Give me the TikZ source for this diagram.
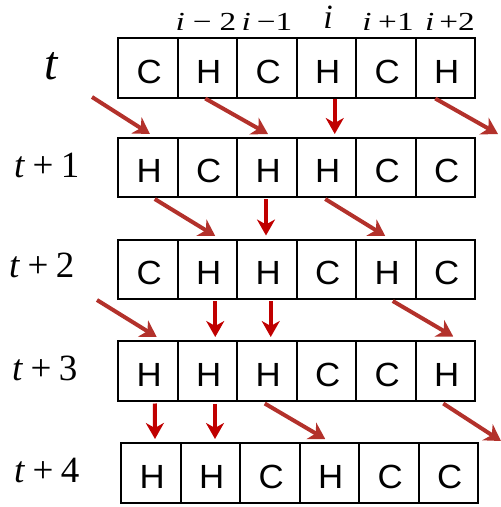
\documentclass[tikz,border=0pt]{standalone}
\usepackage{graphicx}
\usepackage{fontspec}
\setmainfont{Liberation Serif}
\newfontfamily\cellfont{Liberation Sans}
\usetikzlibrary{arrows.meta}
\definecolor{diagred}{HTML}{B3312B}
\definecolor{vertred}{HTML}{C00000}
% horizontal widening of a glyph run
\newcommand{\widenby}[2]{\scalebox{#1}[1]{#2}}

\tikzset{
  cell/.style={draw, line width=2pt, minimum width=59.5pt, minimum height=59.5pt,
    inner sep=0pt, text height=30.5pt, text depth=0pt,
    font=\cellfont\fontsize{33.5}{33.5}\selectfont},
  rowlab/.style={inner sep=0pt, anchor=base west, font=\fontsize{37}{37}\selectfont},
  collab/.style={inner sep=0pt, anchor=base, font=\fontsize{26}{26}\selectfont},
  diag/.style={draw=diagred, line width=4pt, -{Stealth[length=16pt, width=19pt, inset=5pt]}},
  vert/.style={draw=vertred, line width=4pt, -{Stealth[length=16pt, width=18pt, inset=5pt]}},
}

\begin{document}
\begin{tikzpicture}[x=1pt, y=-1pt]
\useasboundingbox (0,0) rectangle (501,507);

% cell rows: index / left edge / top edge / contents
\foreach \row/\L/\T/\cells in {0/118/38/{C,H,C,H,C,H},
                               1/118/137.5/{H,C,H,H,C,C},
                               2/118/239.5/{C,H,H,C,H,C},
                               3/118/341/{H,H,H,C,C,H},
                               4/121/443/{H,H,C,H,C,C}}{
  \foreach \ch [count=\k from 0] in \cells {
    \node[cell] (r\row-\k) at ({\L+59.5*\k+29.75},{\T+29.75}) {\kern3pt\widenby{1.04}{\ch}};
  }
}

% time labels
\node[rowlab, font=\fontsize{48}{48}\selectfont] (lt0) at (44,79) {\textit{t}};
\node[rowlab] (lt1) at (14,177) {\textit{t}\hspace{0.2em}+\hspace{0.2em}1};
\node[rowlab] (lt2) at (9,277) {\textit{t}\hspace{0.2em}+\hspace{0.2em}2};
\node[rowlab] (lt3) at (12,380) {\textit{t}\hspace{0.2em}+\hspace{0.2em}3};
\node[rowlab] (lt4) at (14,482) {\textit{t}\hspace{0.2em}+\hspace{0.2em}4};

% site labels
\node[collab] (ci1) at (206,30) {\widenby{1.28}{\textit{i}\hspace{0.24em}−\hspace{0.24em}2}};
\node[collab] (ci2) at (267,30) {\widenby{1.28}{\textit{i}\hspace{0.18em}−1}};
\node[collab, font=\fontsize{34}{34}\selectfont] (ci3) at (328,28) {\textit{i}};
\node[collab] (ci4) at (388,30) {\widenby{1.28}{\textit{i}\hspace{0.2em}+1}};
\node[collab] (ci5) at (450,30) {\widenby{1.28}{\textit{i}\hspace{0.15em}+2}};

% free ends across the periodic boundary
\coordinate (in0) at (92,97);
\coordinate (out0) at (498,134);
\coordinate (in2) at (97,300);
\coordinate (out3) at (501,441);

% t -> t+1
\draw[diag] (in0) -- ([xshift=2.25pt, yshift=2.5pt]r1-0.north);
\draw[diag] ([xshift=-2pt]r0-1.south) -- ([xshift=1.25pt, yshift=2.5pt]r1-2.north);
\draw[vert] ([xshift=8.5pt]r0-3.south) -- ([xshift=8.5pt, yshift=2.5pt]r1-3.north);
\draw[diag] ([xshift=-10pt]r0-5.south) -- (out0);

% t+1 -> t+2
\draw[diag] ([xshift=7pt, yshift=-1pt]r1-0.south) -- ([xshift=8pt, yshift=2.5pt]r2-1.north);
\draw[vert] ([xshift=-0.75pt, yshift=-1pt]r1-2.south) -- ([xshift=-0.75pt, yshift=3pt]r2-2.north);
\draw[diag] ([xshift=-1pt, yshift=-1pt]r1-3.south) -- ([xshift=-0.5pt, yshift=2.5pt]r2-4.north);

% t+2 -> t+3
\draw[diag] (in2) -- ([xshift=9pt, yshift=3pt]r3-0.north);
\draw[vert] ([xshift=8pt, yshift=-1pt]r2-1.south) -- ([xshift=8pt, yshift=3pt]r3-1.north);
\draw[vert] ([xshift=4pt, yshift=-1pt]r2-2.south) -- ([xshift=4pt, yshift=3pt]r3-2.north);
\draw[diag] ([xshift=7pt, yshift=-1pt]r2-4.south) -- ([xshift=8pt, yshift=3.5pt]r3-5.north);

% t+3 -> t+4
\draw[vert] ([xshift=7pt, yshift=-2pt]r3-0.south) -- ([xshift=4.25pt, yshift=3pt]r4-0.north);
\draw[vert] ([xshift=7.75pt, yshift=-2pt]r3-1.south) -- ([xshift=4.75pt, yshift=3pt]r4-1.north);
\draw[diag] ([xshift=-2pt, yshift=-2pt]r3-2.south) -- ([xshift=-4pt, yshift=3pt]r4-3.north);
\draw[diag] ([xshift=-2pt, yshift=-2pt]r3-5.south) -- (out3);
\end{tikzpicture}
\end{document}
